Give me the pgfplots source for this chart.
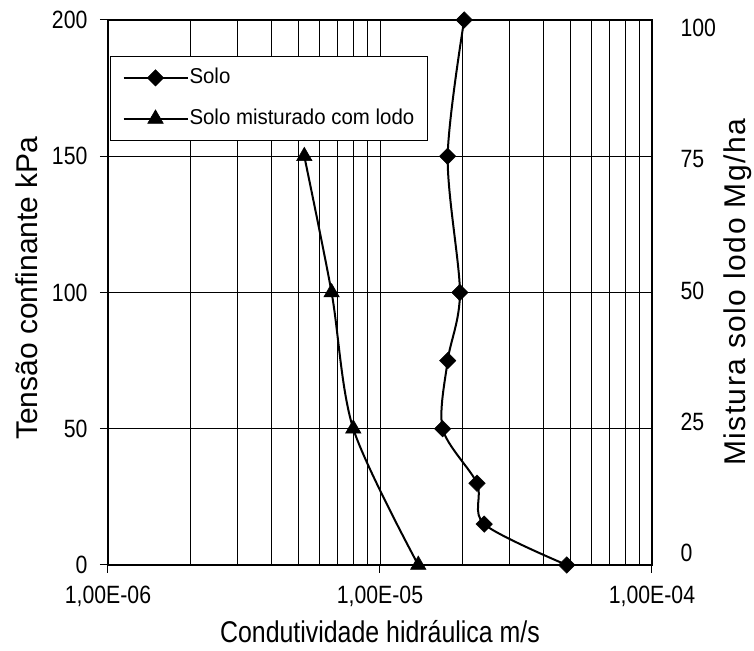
\documentclass[border=0pt]{standalone}
\usepackage{fontspec}
\setmainfont{Liberation Sans}
\newfontfamily\tickfont{Liberation Sans}[FakeStretch=0.85]
\newfontfamily\xlabfont{Liberation Sans}[FakeStretch=0.83]
\newfontfamily\legfont{Liberation Sans}[FakeStretch=0.95]
\newfontfamily\rlabfont{Liberation Sans}[LetterSpace=5]
\usepackage{pgfplots}
\pgfplotsset{compat=1.18}
\usetikzlibrary{calc}
\begin{document}
\begin{tikzpicture}
\begin{axis}[name=ax, scale only axis, width=544pt, height=545pt,
  xmode=log, xmin=1e-6, xmax=1e-4, ymin=0, ymax=200,
  xtick={1e-6,1e-5,1e-4}, xticklabels={{1,00E-06},{1,00E-05},{1,00E-04}},
  ytick={0,50,100,150,200},
  xtick pos=bottom, ytick pos=left, tick align=outside,
  major tick length=8pt, minor tick length=0pt,
  grid=both,
  major grid style={black, line width=0.7pt},
  minor grid style={black, line width=0.7pt},
  axis line style={line width=2pt},
  tick style={black, line width=1pt},
  /pgf/number format/assume math mode=true,
  tick label style={font=\tickfont\fontsize{25}{28}\selectfont},
  xticklabel style={anchor=center, yshift=-23pt},
  yticklabel style={anchor=east, xshift=-9pt},
  xlabel={Condutividade hidráulica m/s},
  ylabel={Tensão confinante kPa},
  xlabel style={font=\xlabfont\fontsize{30}{34}\selectfont, at={(axis description cs:0.5,-0.123)}, anchor=center},
  ylabel style={font=\fontsize{30}{34}\selectfont, at={(axis description cs:-0.149,0.508)}, anchor=center},
  legend style={at={(axis description cs:0.004,0.934)}, anchor=north west,
    draw=black, line width=0.7pt, font=\legfont\fontsize{21.5}{24}\selectfont,
    nodes={inner sep=1pt, text height=15pt, text depth=4pt},
    row sep=20pt, inner xsep=12pt, inner ysep=11pt},
  legend cell align=left,
  legend image code/.code={\draw[mark repeat=2,mark phase=2,#1] plot coordinates {(0pt,0pt) (32pt,0pt) (64pt,0pt)};},
]
\addplot[black, line width=2pt, smooth, mark=square*, mark size=5.8pt, mark options={rotate=45, line width=0.5pt}]
  coordinates {(2.04e-5,200) (1.774e-5,150) (1.968e-5,100) (1.774e-5,75) (1.70e-5,50) (2.274e-5,30) (2.416e-5,15) (4.86e-5,0)};
\addlegendentry{Solo}
\addplot[black, line width=2pt, smooth, mark=triangle*, mark size=9pt, mark options={line width=0.5pt}]
  coordinates {(5.27e-6,150) (6.64e-6,100) (7.98e-6,50) (1.383e-5,0)};
\addlegendentry{Solo misturado com lodo}
\end{axis}
\begin{axis}[scale only axis, width=544pt, height=545pt,
  xmin=0, xmax=1, ymin=-2.29, ymax=101.52,
  ytick={0,25,50,75,100},
  axis y line*=right, hide x axis,
  axis line style={draw=none},
  major tick length=0pt,
  /pgf/number format/assume math mode=true,
  yticklabel style={font=\tickfont\fontsize{25}{28}\selectfont, anchor=west, xshift=25pt},
  ylabel={Mistura solo lodo Mg/ha},
  ylabel style={font=\rlabfont\fontsize{30}{34}\selectfont, at={(axis description cs:1.158,0.5)}, anchor=center},
]
\end{axis}
\pgfresetboundingbox
\path ($(ax.south west)+(-108pt,-86pt)$) rectangle ($(ax.north east)+(102pt,20pt)$);
\end{tikzpicture}
\end{document}
